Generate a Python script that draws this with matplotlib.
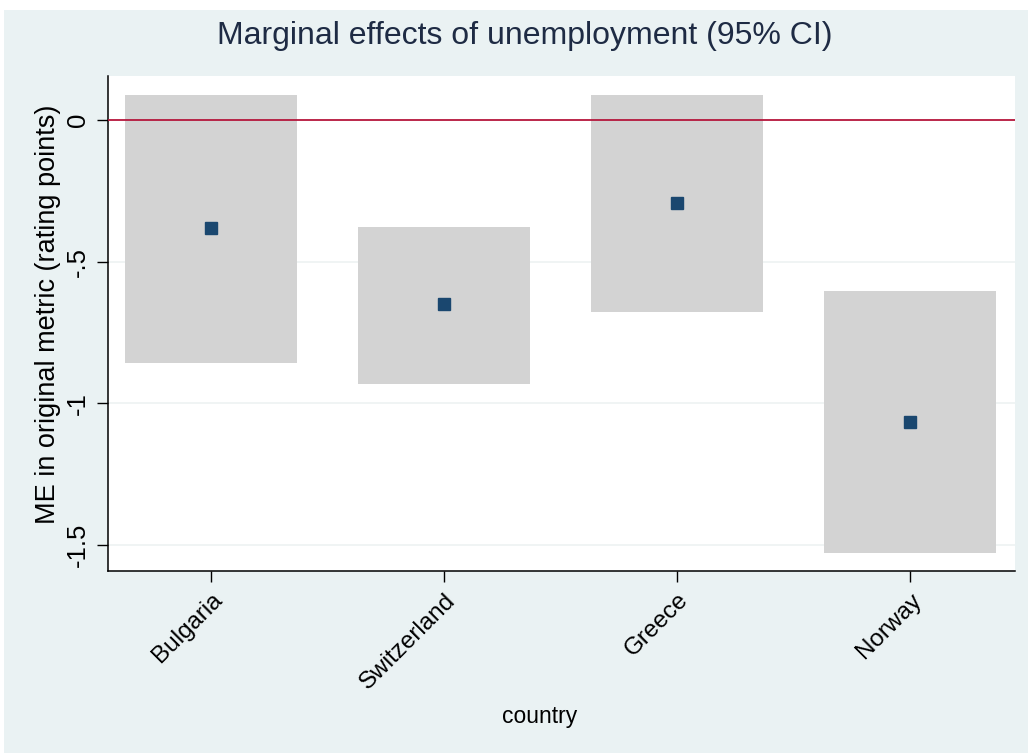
import matplotlib
matplotlib.use("Agg")
import matplotlib.pyplot as plt
from matplotlib.patches import Rectangle

countries = ["Bulgaria", "Switzerland", "Greece", "Norway"]
me = [-0.381, -0.649, -0.293, -1.066]
ci_low = [-0.857, -0.932, -0.677, -1.528]
ci_high = [0.088, -0.378, 0.088, -0.603]
yticks = [0, -0.5, -1, -1.5]
ytick_labels = ["0", "-.5", "-1", "-1.5"]

plt.rcParams['font.family'] = ['Liberation Sans', 'DejaVu Sans']

fig = plt.figure(figsize=(10.28, 7.53), dpi=100)
fig.patch.set_facecolor("white")
bg = Rectangle((4/1028, 0), 1 - 4/1028, 1 - 10/753, transform=fig.transFigure,
               facecolor="#EAF2F3", edgecolor="none", zorder=-10)
fig.patches.append(bg)

ax = fig.add_axes([108/1028, 1 - 571/753, (1015 - 108)/1028, (571 - 76)/753])
ax.set_facecolor("white")

xs = list(range(1, len(countries) + 1))
bw = 0.74
for x, lo, hi in zip(xs, ci_low, ci_high):
    ax.bar(x, hi - lo, bottom=lo, width=bw, color="#D3D3D3", edgecolor="none", zorder=2)
ax.plot(xs, me, linestyle="none", marker="s", markersize=9, color="#1A476F", zorder=4)
ax.axhline(0, color="#B5163C", linewidth=1.3, zorder=3)

for yv in yticks[1:]:
    ax.axhline(yv, color="#EEF2F2", linewidth=1.2, zorder=1)

ax.set_xlim(0.558, 4.45)
ax.set_ylim(-1.591, 0.155)
ax.set_yticks(yticks)
ax.set_yticklabels(ytick_labels, rotation=90, va="center", fontsize=18.5)
ax.set_xticks(xs)
ax.set_xticklabels(countries, rotation=45, ha="right", rotation_mode="anchor", fontsize=17.5)
ax.tick_params(axis="both", length=8, width=1, color="black", pad=5)

for s in ["top", "right"]:
    ax.spines[s].set_visible(False)
for s in ["left", "bottom"]:
    ax.spines[s].set_color("black")
    ax.spines[s].set_linewidth(1.1)

fig.text(48/1028, 1 - 314/753, "ME in original metric (rating points)", fontsize=19.5,
         rotation=90, ha="center", va="center")
fig.text(540/1028, 1 - 717/753, "country", fontsize=16.5, ha="center", va="center")
fig.text(525/1028, 1 - 36/753, "Marginal effects of unemployment (95% CI)", fontsize=23,
         ha="center", va="center", color="#1E2B44")

fig.savefig("out.png", dpi=100, facecolor=fig.get_facecolor())
